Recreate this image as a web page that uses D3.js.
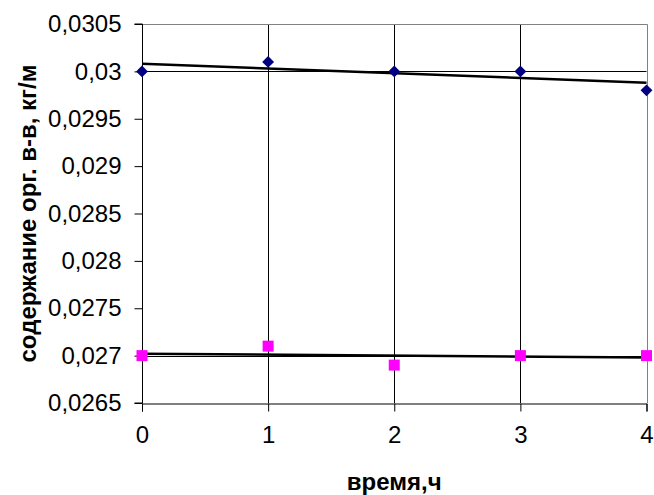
<!DOCTYPE html>
<html>
<head>
<meta charset="utf-8">
<script src="https://cdn.jsdelivr.net/npm/d3@7"></script>
<style>
  body { margin: 0; background: #fff; }
  svg text { font-family: "Liberation Sans", Arial, sans-serif; fill: #000; }
</style>
</head>
<body>
<div id="chart"></div>
<script>
// time, h
const hours = [0, 1, 2, 3, 4];
// content of organic matter, kg/m
const seriesTop = [0.0300, 0.0301, 0.0300, 0.0300, 0.0298];
const seriesBottom = [0.0270, 0.0271, 0.0269, 0.0270, 0.0270];
const yTicks = [0.0265, 0.027, 0.0275, 0.028, 0.0285, 0.029, 0.0295, 0.03, 0.0305];
const yGridValues = [0.027, 0.03];
const xTicks = [0, 1, 2, 3, 4];

const width = 654, height = 495;
const margin = { top: 24, right: 7.5, bottom: 92, left: 142 };

const svg = d3.select('#chart').append('svg')
    .attr('width', width).attr('height', height);

const x = d3.scaleLinear().domain([0, 4]).range([margin.left, width - margin.right]);
const y = d3.scaleLinear().domain([0.0265, 0.0305]).range([height - margin.bottom, margin.top]);

const fmt = (d) => String(+d.toFixed(4)).replace('.', ',');

// gridlines
svg.append('g').selectAll('line.hgrid').data(yGridValues).enter().append('line')
    .attr('x1', x(0)).attr('x2', x(4))
    .attr('y1', (d) => Math.round(y(d)) + 0.5).attr('y2', (d) => Math.round(y(d)) + 0.5)
    .attr('stroke', '#000').attr('stroke-width', 1);
svg.append('g').selectAll('line.vgrid').data(xTicks.slice(1, -1)).enter().append('line')
    .attr('x1', (d) => Math.round(x(d)) + 0.5).attr('x2', (d) => Math.round(x(d)) + 0.5)
    .attr('y1', y(0.0305)).attr('y2', y(0.0265))
    .attr('stroke', '#000').attr('stroke-width', 1);

// top / right border
svg.append('path')
    .attr('d', `M${x(0)},${Math.round(y(0.0305)) + 0.5}H${Math.round(x(4)) + 0.5}V${y(0.0265)}`)
    .attr('fill', 'none').attr('stroke', '#808080').attr('stroke-width', 1);

// axes
const yAxis = d3.axisLeft(y).tickValues(yTicks).tickSize(8).tickPadding(13).tickFormat(fmt);
const xAxis = d3.axisBottom(x).tickValues(xTicks).tickSize(8).tickPadding(14).tickFormat(d3.format('d'));

const gy = svg.append('g').attr('transform', `translate(${Math.round(x(0)) + 0.5},0)`).call(yAxis);
const gx = svg.append('g').attr('transform', `translate(0,${Math.round(y(0.0265)) + 0.5})`).call(xAxis);
[gx, gy].forEach((g) => {
    g.select('.domain').attr('stroke', '#000');
    g.selectAll('.tick line').attr('stroke', '#000');
    g.selectAll('.tick text').attr('font-size', 24).attr('font-family', '"Liberation Sans", Arial, sans-serif');
});
gy.select('.domain').attr('d', `M-8,${y(0.0305)}H0V${y(0.0265)}H-8`);

// linear trendlines
function trend(xs, ys) {
    const mx = d3.mean(xs), my = d3.mean(ys);
    const b = d3.sum(xs, (v, i) => (v - mx) * (ys[i] - my)) / d3.sum(xs, (v) => (v - mx) * (v - mx));
    return (v) => my + b * (v - mx);
}
const line = d3.line().x((d) => x(d[0])).y((d) => y(d[1]));
[seriesTop, seriesBottom].forEach((s) => {
    const f = trend(hours, s);
    svg.append('path')
        .attr('d', line([[0, f(0)], [4, f(4)]]))
        .attr('fill', 'none').attr('stroke', '#000').attr('stroke-width', 2.5);
});

// markers
svg.append('g').selectAll('path').data(hours).enter().append('path')
    .attr('d', d3.symbol().type(d3.symbolDiamond2).size(90))
    .attr('transform', (d, i) => `translate(${x(d)},${y(seriesTop[i])})`)
    .attr('fill', '#000080');
svg.append('g').selectAll('rect').data(hours).enter().append('rect')
    .attr('x', (d) => x(d) - 5.5).attr('y', (d, i) => y(seriesBottom[i]) - 5.5)
    .attr('width', 11).attr('height', 11)
    .attr('fill', '#ff00ff');

// titles
svg.append('text')
    .attr('x', (x(0) + x(4)) / 2).attr('y', 490)
    .attr('text-anchor', 'middle').attr('font-size', 24).attr('font-weight', 'bold')
    .text('время,ч');
svg.append('text')
    .attr('transform', `translate(36,${(y(0.0305) + y(0.0265)) / 2}) rotate(-90)`)
    .attr('text-anchor', 'middle').attr('font-size', 24).attr('font-weight', 'bold')
    .text('содержание орг. в-в, кг/м');
</script>
</body>
</html>
